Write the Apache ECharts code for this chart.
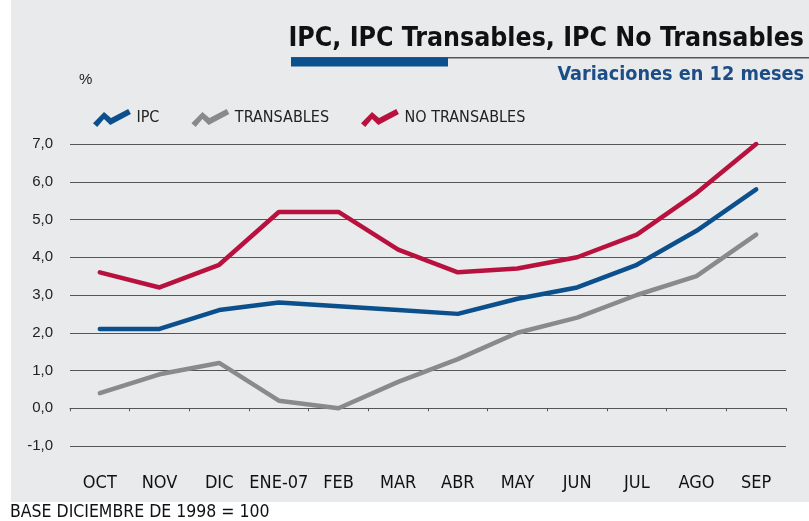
<!DOCTYPE html>
<html lang="es">
<head>
    <meta charset="UTF-8">
    <title>IPC, IPC Transables, IPC No Transables</title>
    <script src="https://cdn.jsdelivr.net/npm/echarts@6/dist/echarts.min.js"></script>
</head>
<body style="margin:0;background:#fff;">
    <div id="main" style="width:809px;height:521px;"></div>
    <script>
        // datos: variaciones en 12 meses (%)
        var meses = ['OCT', 'NOV', 'DIC', 'ENE-07', 'FEB', 'MAR', 'ABR', 'MAY', 'JUN', 'JUL', 'AGO', 'SEP'];
        var ipc = [2.1, 2.1, 2.6, 2.8, 2.7, 2.6, 2.5, 2.9, 3.2, 3.8, 4.7, 5.8];
        var transables = [0.4, 0.9, 1.2, 0.2, 0.0, 0.7, 1.3, 2.0, 2.4, 3.0, 3.5, 4.6];
        var noTransables = [3.6, 3.2, 3.8, 5.2, 5.2, 4.2, 3.6, 3.7, 4.0, 4.6, 5.7, 7.0];

        var narrow = '"DejaVu Sans Condensed", "Liberation Sans", sans-serif';
        // icono zigzag de la leyenda (trazo grueso)
        var zigzag = 'path://M0.1,13.3 L10,3.3 L16.3,8.6 L31.8,0.5 L34.2,4.9 L15.6,14.8 L10,9.6 L3.9,16.7 Z';

        var chart = echarts.init(document.getElementById('main'));

        function linea(nombre, datos, color) {
            return {
                name: nombre,
                type: 'line',
                xAxisIndex: 0,
                data: datos,
                symbol: 'none',
                color: color,
                itemStyle: { color: color },
                lineStyle: { width: 4.5, color: color, cap: 'round', join: 'round' },
                z: 3
            };
        }

        chart.setOption({
            backgroundColor: '#fff',
            animation: false,
            graphic: [
                { type: 'rect', z: -1, shape: { x: 11, y: 0, width: 798, height: 502 }, style: { fill: '#e9eaec' } },
                { type: 'rect', shape: { x: 291, y: 57, width: 518, height: 1.5 }, style: { fill: '#555' } },
                { type: 'rect', shape: { x: 291, y: 57.5, width: 157, height: 9 }, style: { fill: '#0b4f8c' } },
                { type: 'text', left: 79, top: 72, style: { text: '%', fontSize: 15, fill: '#222', fontFamily: 'Liberation Sans' } },
                { type: 'text', left: 10, top: 503, style: { text: 'BASE DICIEMBRE DE 1998 = 100', fontSize: 17.5, fill: '#111', fontFamily: narrow } }
            ],
            title: [{
                text: 'IPC, IPC Transables, IPC No Transables',
                right: 0,
                top: 21,
                textStyle: { fontSize: 26.5, fontWeight: 'bold', color: '#111', fontFamily: narrow }
            }, {
                text: 'Variaciones en 12 meses',
                right: 0,
                top: 60,
                textStyle: { fontSize: 19.7, fontWeight: 'bold', color: '#1d4d86', fontFamily: narrow }
            }],
            legend: {
                left: 88,
                top: 104,
                itemWidth: 39,
                itemHeight: 18,
                itemGap: 32,
                icon: zigzag,
                textStyle: { fontSize: 16, color: '#222', fontFamily: narrow },
                data: ['IPC', 'TRANSABLES', 'NO TRANSABLES']
            },
            grid: { left: 70, right: 23, top: 144, bottom: 75 },
            xAxis: [{
                type: 'category',
                data: meses,
                position: 'bottom',
                axisLine: { show: true, onZero: true, lineStyle: { color: '#555', width: 1 } },
                axisTick: { show: true, length: 3, lineStyle: { color: '#555' } },
                axisLabel: { show: false },
                splitLine: { show: false }
            }, {
                type: 'category',
                data: meses,
                position: 'bottom',
                axisLine: { show: false, onZero: false },
                axisTick: { show: false },
                axisLabel: { interval: 0, margin: 28, fontSize: 18, color: '#111', fontFamily: narrow },
                splitLine: { show: false }
            }],
            yAxis: {
                type: 'value',
                min: -1,
                max: 7,
                interval: 1,
                axisLine: { show: false },
                axisTick: { show: false },
                axisLabel: {
                    margin: 17,
                    fontSize: 15,
                    color: '#222',
                    fontFamily: 'Liberation Sans',
                    formatter: function (v) { return v.toFixed(1).replace('.', ','); }
                },
                splitLine: { lineStyle: { color: '#555', width: 1 } }
            },
            series: [
                linea('IPC', ipc, '#0b4f8c'),
                linea('TRANSABLES', transables, '#8a8a8a'),
                linea('NO TRANSABLES', noTransables, '#b8113e')
            ]
        });
    </script>
</body>
</html>
